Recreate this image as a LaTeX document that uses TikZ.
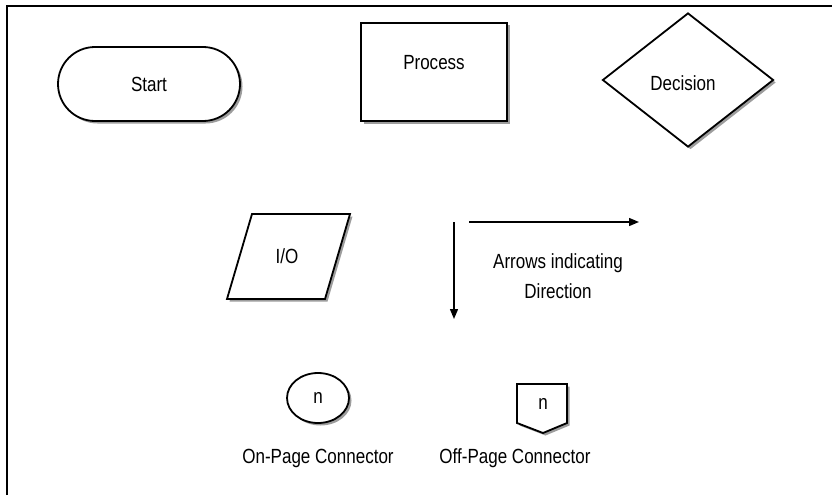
\documentclass[tikz,border=0pt]{standalone}
\usepackage{fontspec}
\setmainfont{Liberation Sans}[FakeStretch=0.83]
\usetikzlibrary{shapes.geometric,shapes.misc,shadows,arrows.meta}
\begin{document}
\begin{tikzpicture}[x=1pt,y=-1pt,
  every node/.style={font=\fontsize{20.5}{30.5}\selectfont},
  shp/.style={draw=black, line width=1.8pt, fill=white,
    drop shadow={shadow xshift=2.5pt, shadow yshift=-2.5pt, fill=black!55, opacity=0.7}},
  arr/.style={line width=1.4pt, -{Triangle[length=10pt,width=8pt]}},
  frame/.style={line width=2.5pt}
]
\useasboundingbox (0,0) rectangle (832,495);
% frame
\coordinate (fbl) at (7,495);
\coordinate (ftl) at (7,6);
\coordinate (ftr) at (832,6);
\draw[frame] (fbl) -- (ftl) -- (ftr);

% terminal
\node[shp, rounded rectangle, minimum width=182pt, minimum height=74pt, inner sep=0pt] (start) at (149,84) {Start};

% process
\node[shp, rectangle, minimum width=146pt, minimum height=98pt, inner sep=0pt,
  label={[yshift=9pt]center:Process}] (process) at (434,72) {};

% decision
\node[shp, diamond, minimum width=171pt, minimum height=134pt, inner sep=0pt,
  label={[xshift=-5pt,yshift=-3pt]center:Decision}] (decision) at (688,80) {};

% I/O
\coordinate (io1) at (227,299);
\coordinate (io2) at (252,214);
\coordinate (io3) at (350,214);
\coordinate (io4) at (325,299);
\draw[shp] (io1) -- (io2) -- (io3) -- (io4) -- cycle;
\node (io) at (287,256) {I/O};

% arrows
\coordinate (dtop) at (454,222);
\coordinate (dbot) at (454,319);
\draw[arr] (dtop) -- (dbot);
\coordinate (rleft) at (469,222);
\coordinate (rright) at (639,222);
\draw[arr] (rleft) -- (rright);
\node[align=center] (arrtxt) at (558,276) {Arrows indicating\\Direction};

% on-page connector
\node[shp, ellipse, minimum width=62pt, minimum height=50pt, inner sep=0pt] (onp) at (318,398) {n};
\node (onlbl) at (318,458) {On-Page Connector};

% off-page connector
\coordinate (op1) at (517,384);
\coordinate (op2) at (567,384);
\coordinate (op3) at (567,423);
\coordinate (op4) at (543,433);
\coordinate (op5) at (517,423);
\draw[shp] (op1) -- (op2) -- (op3) -- (op4) -- (op5) -- cycle;
\node (offp) at (543,404) {n};
\node (offlbl) at (515,458) {Off-Page Connector};
\end{tikzpicture}
\end{document}
